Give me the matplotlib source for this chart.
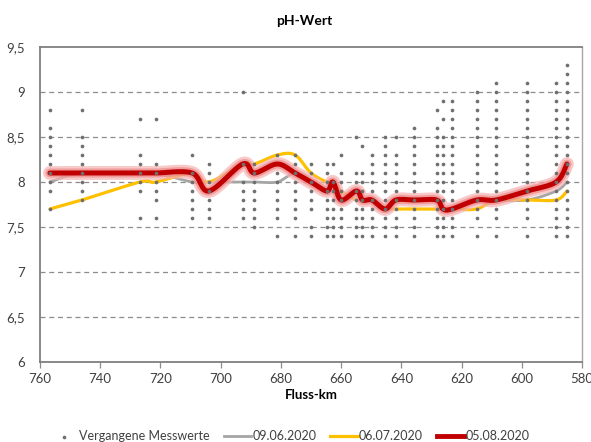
import numpy as np
import matplotlib
matplotlib.use("Agg")
import matplotlib.pyplot as plt
from matplotlib.ticker import FuncFormatter, MultipleLocator

plt.rcParams["font.family"] = ["Lato", "DejaVu Sans"]

# past measurements: river km of each station and the pH values seen there
station_km = [756.7, 746.1, 726.8, 721.5, 709.5, 703.9, 692.7, 688.8, 681.2,
              675.3, 670.0, 664.7, 662.7, 660.0, 654.9, 652.9, 649.8, 645.4,
              641.8, 635.7, 628.3, 626.2, 623.2, 615.0, 608.6, 598.2, 588.6,
              585.0]
past_values = [
    [8.8, 8.6, 8.5, 8.4, 8.3, 8.2, 8.1, 8.0, 7.9, 7.7],
    [8.8, 8.5, 8.4, 8.3, 8.2, 8.1, 8.0, 7.9, 7.8],
    [8.7, 8.3, 8.2, 8.1, 8.0, 7.9, 7.6],
    [8.7, 8.2, 8.1, 8.0, 7.9, 7.8, 7.6],
    [8.3, 8.1, 8.0, 7.9, 7.8, 7.7, 7.6],
    [8.2, 8.1, 8.0, 7.9, 7.8, 7.7, 7.6],
    [9.0, 8.2, 8.0, 7.9, 7.8, 7.7, 7.6],
    [8.2, 8.1, 8.0, 7.9, 7.8, 7.7, 7.6, 7.5],
    [8.3, 8.1, 8.0, 7.9, 7.8, 7.7, 7.6, 7.4],
    [8.3, 8.2, 8.1, 8.0, 7.9, 7.8, 7.7, 7.6, 7.4],
    [8.2, 8.1, 8.0, 7.9, 7.8, 7.7, 7.5, 7.4],
    [8.2, 8.1, 8.0, 7.9, 7.8, 7.7, 7.6, 7.5, 7.4],
    [8.2, 8.0, 7.9, 7.8, 7.7, 7.6, 7.5, 7.4],
    [8.3, 8.1, 8.0, 7.9, 7.8, 7.7, 7.6, 7.5, 7.4],
    [8.5, 8.1, 8.0, 7.9, 7.8, 7.7, 7.6, 7.5, 7.4],
    [8.4, 8.1, 8.0, 7.9, 7.8, 7.7, 7.6, 7.5, 7.4],
    [8.3, 8.2, 8.1, 8.0, 7.9, 7.8, 7.7, 7.6, 7.5, 7.4],
    [8.5, 8.4, 8.3, 8.2, 8.1, 8.0, 7.9, 7.8, 7.7, 7.6, 7.5, 7.4],
    [8.5, 8.3, 8.2, 8.1, 8.0, 7.9, 7.8, 7.7, 7.6, 7.5, 7.4],
    [8.6, 8.5, 8.4, 8.3, 8.2, 8.1, 8.0, 7.9, 7.8, 7.7, 7.6, 7.5, 7.4],
    [8.8, 8.6, 8.5, 8.4, 8.3, 8.2, 8.1, 8.0, 7.9, 7.8, 7.7, 7.6, 7.5, 7.4],
    [8.9, 8.7, 8.5, 8.4, 8.3, 8.2, 8.1, 8.0, 7.9, 7.8, 7.7, 7.6, 7.5, 7.4],
    [8.9, 8.8, 8.7, 8.6, 8.5, 8.4, 8.3, 8.2, 8.1, 8.0, 7.9, 7.8, 7.7, 7.6,
     7.5, 7.4],
    [9.0, 8.9, 8.8, 8.7, 8.6, 8.5, 8.4, 8.3, 8.2, 8.1, 8.0, 7.9, 7.8, 7.7,
     7.6, 7.4],
    [9.1, 9.0, 8.9, 8.8, 8.7, 8.6, 8.5, 8.4, 8.3, 8.2, 8.1, 8.0, 7.9, 7.8,
     7.7, 7.6, 7.4],
    [9.1, 9.0, 8.9, 8.8, 8.7, 8.6, 8.5, 8.4, 8.3, 8.2, 8.1, 8.0, 7.9, 7.8,
     7.7, 7.6, 7.4],
    [9.1, 9.0, 8.9, 8.8, 8.7, 8.6, 8.5, 8.4, 8.3, 8.2, 8.1, 8.0, 7.9, 7.8,
     7.7, 7.6, 7.5, 7.4],
    [9.3, 9.2, 9.1, 9.0, 8.9, 8.8, 8.7, 8.6, 8.5, 8.4, 8.3, 8.2, 8.1, 8.0,
     7.9, 7.8, 7.7, 7.6, 7.5, 7.4],
]

# the three survey runs, one value per station
ph_0906 = [8.0, 8.1, 8.1, 8.1, 8.0, 8.0, 8.0, 8.0, 8.0, 8.1, 8.0, 7.9, 8.0,
           7.8, 7.9, 7.8, 7.8, 7.7, 7.8, 7.8, 7.8, 7.7, 7.7, 7.8, 7.8, 7.8,
           7.9, 8.0]
ph_0607 = [7.7, 7.8, 8.0, 8.0, 8.1, 8.0, 8.2, 8.2, 8.3, 8.3, 8.1, 8.0, 8.0,
           7.9, 7.8, 7.8, 7.8, 7.7, 7.7, 7.7, 7.7, 7.7, 7.7, 7.7, 7.8, 7.8,
           7.8, 7.9]
ph_0508 = [8.1, 8.1, 8.1, 8.1, 8.1, 7.9, 8.2, 8.1, 8.2, 8.1, 8.0, 7.9, 8.0,
           7.8, 7.9, 7.8, 7.8, 7.7, 7.8, 7.8, 7.8, 7.7, 7.7, 7.8, 7.8, 7.9,
           8.0, 8.2]


def smooth(xs, ys, n=24, yscale=30.0):
    # Excel-like smoothed line: cubic Bezier through the points
    P = np.column_stack([np.asarray(xs, float), np.asarray(ys, float) * yscale])
    t = np.linspace(0, 1, n)[:, None]
    parts = []
    for i in range(len(P) - 1):
        p0, p1 = P[max(i - 1, 0)], P[i]
        p2, p3 = P[i + 1], P[min(i + 2, len(P) - 1)]
        c1 = p1 + (p2 - p0) / 6
        c2 = p2 - (p3 - p1) / 6
        seg = ((1 - t) ** 3 * p1 + 3 * (1 - t) ** 2 * t * c1
               + 3 * (1 - t) * t ** 2 * c2 + t ** 3 * p2)
        parts.append(seg if i == 0 else seg[1:])
    S = np.vstack(parts)
    return S[:, 0], S[:, 1] / yscale


fig = plt.figure(figsize=(5.91, 4.42), dpi=100)
ax = fig.add_axes([40 / 591, 1 - 362 / 442, 542 / 591, 315 / 442])

for yv in np.arange(6.5, 9.01, 0.5):
    ax.axhline(yv, color="#8c8c8c", lw=0.9, ls=(0, (4, 3)), zorder=1)

sx = [k for k, vals in zip(station_km, past_values) for _ in vals]
sy = [v for vals in past_values for v in vals]

x1, y1 = smooth(station_km, ph_0906)
x2, y2 = smooth(station_km, ph_0607)
x3, y3 = smooth(station_km, ph_0508)
ax.plot(x1, y1, color="#a5a5a5", lw=2.0, zorder=2, solid_capstyle="round")
ax.plot(x2, y2, color="#ffc000", lw=2.3, zorder=3, solid_capstyle="round")
ax.plot(x3, y3, color="#f6b3b3", lw=10, alpha=0.7, zorder=4,
        solid_capstyle="round")
ax.plot(x3, y3, color="#ee8080", lw=6.5, alpha=0.6, zorder=4,
        solid_capstyle="round")
ax.plot(x3, y3, color="#c00000", lw=3.6, zorder=5, solid_capstyle="round")
ax.scatter(sx, sy, s=7, color="#6f6f6f", linewidths=0, zorder=6)

ax.set_xlim(760, 580)
ax.set_ylim(6, 9.5)
ax.xaxis.set_major_locator(MultipleLocator(20))
ax.yaxis.set_major_locator(MultipleLocator(0.5))
ax.yaxis.set_major_formatter(FuncFormatter(lambda v, p: f"{v:g}".replace(".", ",")))
ax.tick_params(axis="y", length=0, pad=11, labelsize=9.5, labelcolor="#404040")
ax.tick_params(axis="x", length=4, width=0.9, color="#8c8c8c", pad=4,
               labelsize=9.5, labelcolor="#404040")
for side in ["left", "bottom", "top"]:
    ax.spines[side].set_color("#7f7f7f")
    ax.spines[side].set_linewidth(1.3)
ax.spines["right"].set_color("#a6a6a6")
ax.spines["right"].set_linewidth(1.0)

fig.text(304 / 591, 1 - 21 / 442, "pH-Wert", fontsize=10, fontweight="bold",
         ha="center", va="center")
ax.set_xlabel("Fluss-km", fontsize=9.5, fontweight="bold", labelpad=3)

h0 = ax.scatter([], [], s=7, color="#6f6f6f", linewidths=0)
h1, = ax.plot([], [], color="#a5a5a5", lw=2.0)
h2, = ax.plot([], [], color="#ffc000", lw=2.3)
h3, = ax.plot([], [], color="#c00000", lw=3.5)
fig.legend([h0, h1, h2, h3],
           ["Vergangene Messwerte", "09.06.2020", "06.07.2020", "05.08.2020"],
           loc="center", bbox_to_anchor=(290 / 591, 1 - 436 / 442), ncol=4,
           frameon=False, fontsize=9, handlelength=2.2, handletextpad=0.1,
           columnspacing=1.1, labelcolor="#404040")

fig.savefig("out.png", dpi=100)
